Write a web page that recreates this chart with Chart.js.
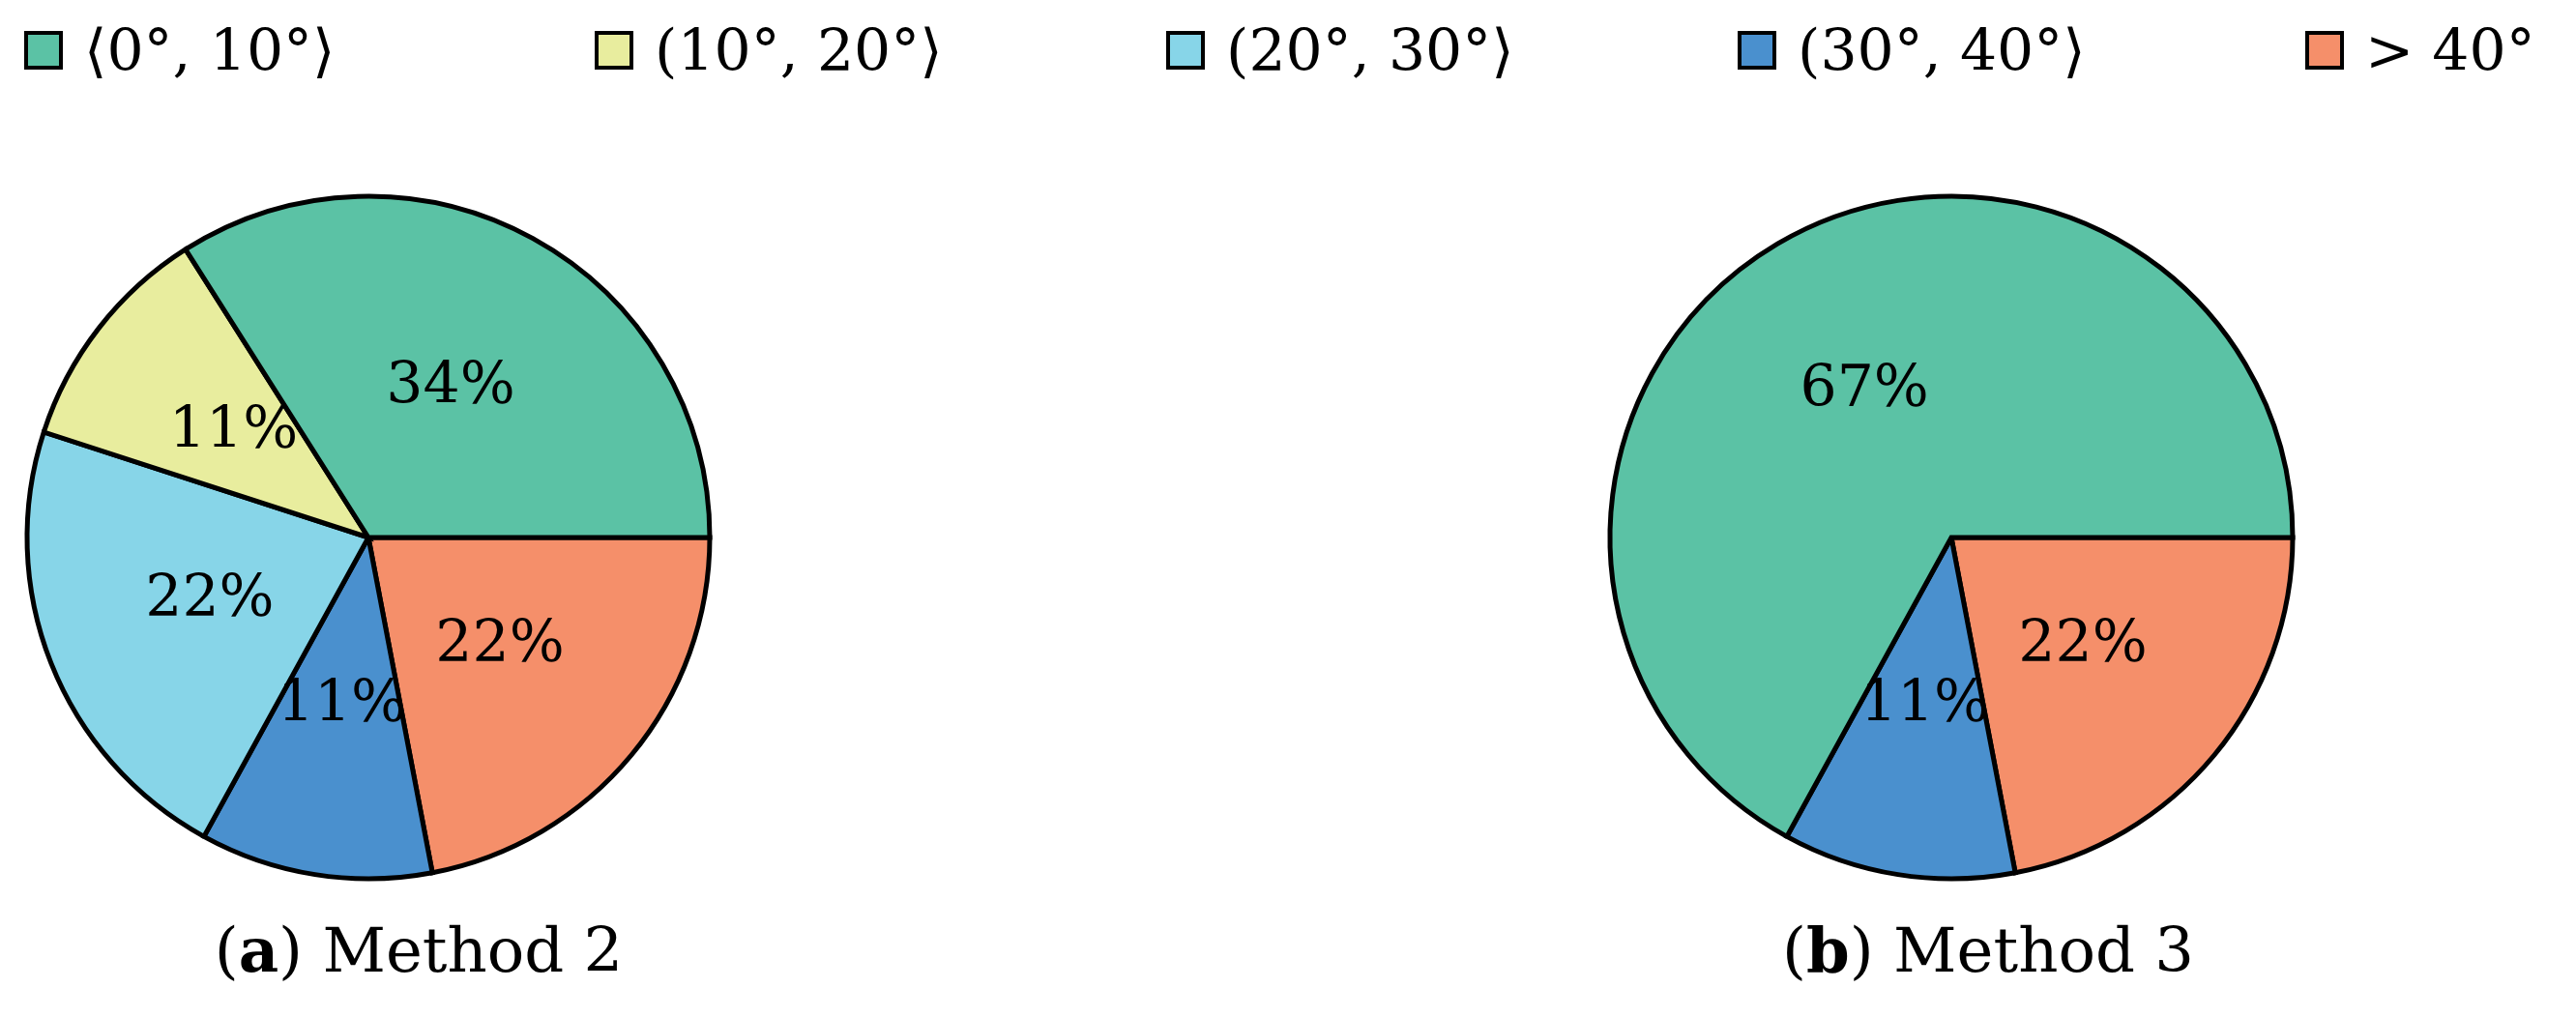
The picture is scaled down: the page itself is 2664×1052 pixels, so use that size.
<!DOCTYPE html>
<html>
<head>
<meta charset="utf-8">
<script src="https://cdn.jsdelivr.net/npm/chart.js@4/dist/chart.umd.min.js"></script>
<style>
body { margin:0; width:2664px; height:1052px; background:#fff; position:relative; overflow:hidden; font-family:"DejaVu Serif","Liberation Serif",serif; }
.leg { position:absolute; top:22px; font-size:60px; line-height:60px; display:flex; align-items:center; white-space:nowrap; }
.leg span.box { display:inline-block; width:40px; height:40px; border:4px solid #000; margin-right:22px; box-sizing:border-box; }
.cap { position:absolute; top:945px; font-size:64px; transform:translateX(-50%); white-space:nowrap; }
canvas { position:absolute; }
</style>
</head>
<body>
<div id="legend"></div>
<canvas id="pieA" width="730" height="730" style="left:16px;top:191px"></canvas>
<canvas id="pieB" width="730" height="730" style="left:1653px;top:191px"></canvas>
<div class="cap" style="left:433px"><b>a</b>) Method 2</div>
<div class="cap" style="left:2056px"><b>b</b>) Method 3</div>
<script>
// categories listed in legend order
const categories = ['⟨0°, 10°⟩', '(10°, 20°⟩', '(20°, 30°⟩', '(30°, 40°⟩', '> 40°'];
const colors = ['#5BC2A5', '#E8ED9E', '#87D5E8', '#4A90CE', '#F58F6A'];
const method2 = [34, 11, 22, 11, 22];
const method3 = [67, 0, 0, 11, 22];
const legendX = [25, 615, 1206, 1797, 2384];

document.querySelectorAll('.cap').forEach((c, i) => {
    c.innerHTML = '(' + c.innerHTML;
});

let legend = document.getElementById('legend');
categories.forEach((cat, i) => {
    let d = document.createElement('div');
    d.className = 'leg';
    d.style.left = legendX[i] + 'px';
    d.innerHTML = '<span class="box" style="background:' + colors[i] + '"></span>';
    d.appendChild(document.createTextNode(cat));
    legend.appendChild(d);
});

const pctLabels = {
    id: 'pctLabels',
    afterDatasetsDraw(chart) {
        let ctx = chart.ctx;
        let ds = chart.data.datasets[0];
        ctx.save();
        ctx.font = '60px "DejaVu Serif", serif';
        ctx.fillStyle = '#000';
        ctx.textAlign = 'center';
        ctx.textBaseline = 'middle';
        chart.getDatasetMeta(0).data.forEach((arc, i) => {
            if (!ds.data[i]) return;
            let p = arc.tooltipPosition();
            ctx.fillText(ds.data[i] + '%', p.x, p.y);
        });
        ctx.restore();
    }
};

// the reference runs counter-clockwise from 3 o'clock; chart.js runs clockwise, so reverse
function createPie(id, values) {
    new Chart(id, {
        type: 'pie',
        data: {
            labels: categories.slice().reverse(),
            datasets: [{
                data: values.slice().reverse(),
                backgroundColor: colors.slice().reverse(),
                borderColor: '#000',
                borderWidth: 5,
                borderJoinStyle: 'miter'
            }]
        },
        options: {
            responsive: false,
            devicePixelRatio: 1,
            animation: false,
            rotation: 90,
            radius: 353,
            plugins: { legend: { display: false }, tooltip: { enabled: false } }
        },
        plugins: [pctLabels]
    });
}

createPie('pieA', method2);
createPie('pieB', method3);
</script>
</body>
</html>
